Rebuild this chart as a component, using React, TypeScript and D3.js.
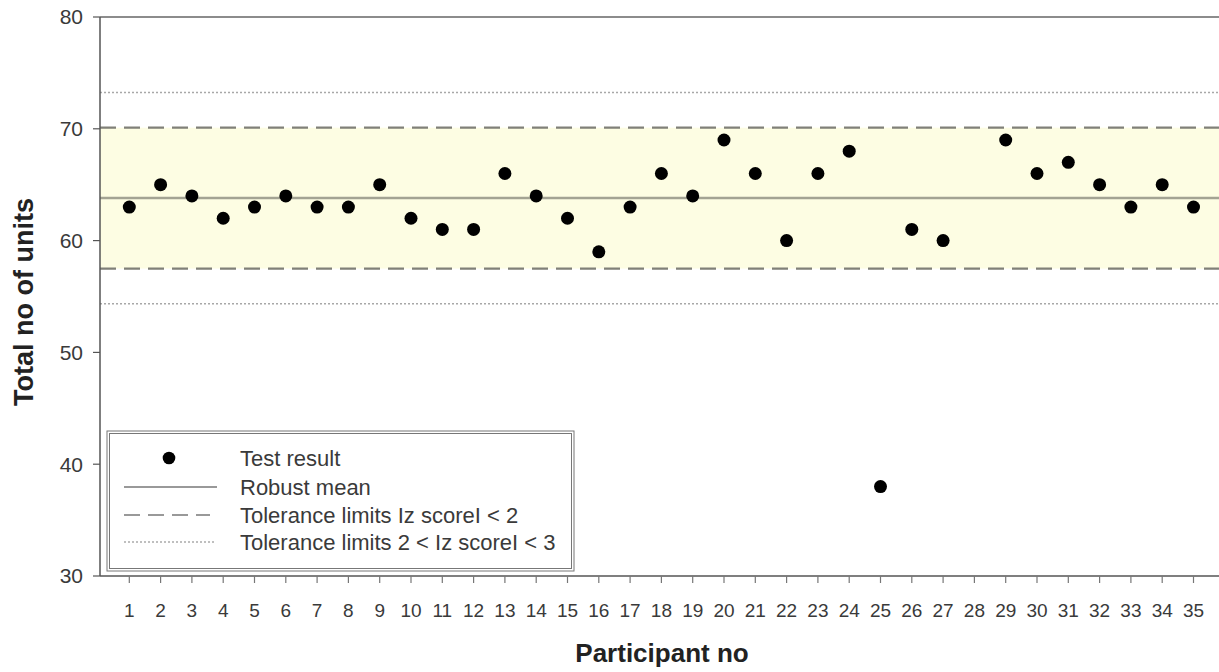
import React from "react";
import * as d3 from "d3";

const participants: number[] = Array.from({ length: 35 }, (_, i) => i + 1);
const resultParticipants: number[] = [1,2,3,4,5,6,7,8,9,10,11,12,13,14,15,16,17,18,19,20,21,22,23,24,25,26,27,29,30,31,32,33,34,35];
const resultValues: number[] = [63,65,64,62,63,64,63,63,65,62,61,61,66,64,62,59,63,66,64,69,66,60,66,68,38,61,60,69,66,67,65,63,65,63];
const robustMean = 63.8;
const limit2 = [57.5, 70.1];
const limit3 = [54.35, 73.25];
const yTicks: number[] = [30, 40, 50, 60, 70, 80];
const legendLabels: string[] = [
  "Test result",
  "Robust mean",
  "Tolerance limits Iz scoreI < 2",
  "Tolerance limits 2 < Iz scoreI < 3",
];

const W = 1219, H = 672;
const x0 = 100, yTop = 17, yBot = 576;

export default function App() {
  const x = d3.scaleLinear().domain([0, 36]).range([98, 98 + 36 * 31.3]);
  const y = d3.scaleLinear().domain([30, 80]).range([yBot, yTop]);
  const font = "Arial, 'Liberation Sans', sans-serif";
  const axisColor = "#555";
  const textColor = "#3a3a3a";
  const legX = 107, legY = 431, legW = 467, legH = 140;
  const rowY = [458, 487, 515, 542];
  return (
    <svg width={W} height={H} style={{ position: "absolute", left: 0, top: 0, background: "#fff" }} fontFamily={font}>
      <rect x={x0} y={y(limit2[1])} width={W - x0} height={y(limit2[0]) - y(limit2[1])} fill="#fdfde3" />
      {limit3.map((v, i) => (
        <line key={"d3" + i} x1={x0} x2={W} y1={y(v)} y2={y(v)} stroke="#a8a8a8" strokeWidth={1.5} strokeDasharray="2,2" />
      ))}
      {limit2.map((v, i) => (
        <line key={"d2" + i} x1={x0} x2={W} y1={y(v)} y2={y(v)} stroke="#808078" strokeWidth={2.2} strokeDasharray="16,8" />
      ))}
      <line x1={x0} x2={W} y1={y(robustMean)} y2={y(robustMean)} stroke="#a3a393" strokeWidth={2.5} />
      <line x1={x0} x2={W} y1={yTop} y2={yTop} stroke="#666" strokeWidth={1.5} />
      <line x1={x0} x2={x0} y1={yTop} y2={yBot} stroke={axisColor} strokeWidth={1.5} />
      <line x1={x0} x2={W} y1={yBot} y2={yBot} stroke={axisColor} strokeWidth={1.5} />
      {yTicks.map((t) => (
        <g key={"yt" + t}>
          <line x1={x0 - 7} x2={x0} y1={y(t)} y2={y(t)} stroke={axisColor} strokeWidth={1.2} />
          <text x={x0 - 17} y={y(t)} dy="0.35em" textAnchor="end" fontSize={21} fill={textColor}>{t}</text>
        </g>
      ))}
      {participants.map((p) => (
        <g key={"xt" + p}>
          <line x1={x(p)} x2={x(p)} y1={yBot} y2={yBot + 7} stroke="#777" strokeWidth={1.2} />
          <text x={x(p)} y={617} textAnchor="middle" fontSize={19} fill={textColor}>{p}</text>
        </g>
      ))}
      {resultParticipants.map((p, i) => (
        <circle key={"pt" + p} cx={x(p)} cy={y(resultValues[i])} r={6.5} fill="#000" />
      ))}
      <rect x={legX} y={legY} width={legW} height={legH} fill="#fff" stroke="#777" strokeWidth={1} />
      <rect x={legX + 2.5} y={legY + 2.5} width={legW - 5} height={legH - 5} fill="none" stroke="#777" strokeWidth={1} />
      <circle cx={169} cy={rowY[0]} r={6.3} fill="#000" />
      <line x1={124} x2={217} y1={rowY[1]} y2={rowY[1]} stroke="#999" strokeWidth={2.2} />
      <line x1={124} x2={210} y1={rowY[2]} y2={rowY[2]} stroke="#999" strokeWidth={2} strokeDasharray="16,8" />
      <line x1={124} x2={214} y1={rowY[3]} y2={rowY[3]} stroke="#aaa" strokeWidth={1.5} strokeDasharray="2,2" />
      {legendLabels.map((l, i) => (
        <text key={"lg" + i} x={240} y={rowY[i]} dy="0.35em" fontSize={22} fill={textColor}>{l}</text>
      ))}
      <text x={662} y={662} textAnchor="middle" fontSize={26} fontWeight="bold" fill="#222">Participant no</text>
      <text transform={`translate(33,302) rotate(-90)`} textAnchor="middle" fontSize={27} fontWeight="bold" fill="#222">Total no of units</text>
    </svg>
  );
}
